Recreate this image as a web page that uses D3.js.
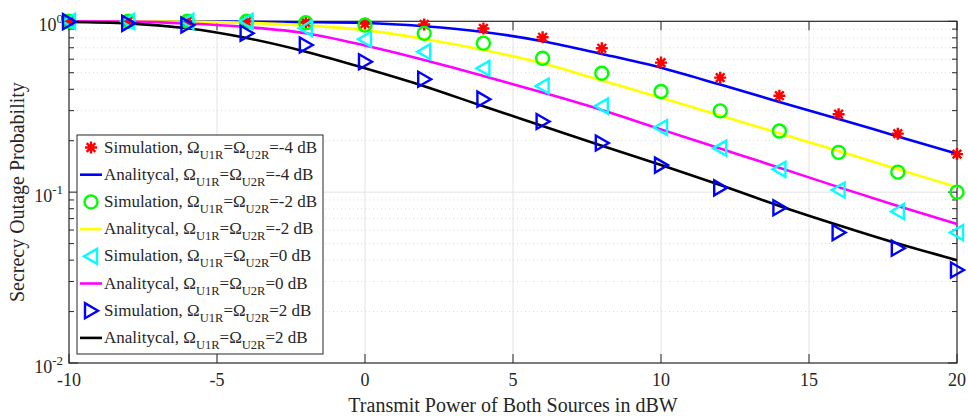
<!DOCTYPE html>
<html>
<head>
<meta charset="utf-8">
<script src="https://cdn.jsdelivr.net/npm/d3@7"></script>
<style>
  body { margin: 0; background: #fff; }
  svg text { font-family: "Liberation Serif", "Times New Roman", serif; fill: #262626; }
</style>
</head>
<body>
<div id="chart"></div>
<script>
// transmit power of both sources (dBW)
const powerDb = [-10, -8, -6, -4, -2, 0, 2, 4, 6, 8, 10, 12, 14, 16, 18, 20];

// secrecy outage probability
const simM4 = [1.0, 1.0, 1.0, 0.995, 0.984, 0.971, 0.958, 0.908, 0.806, 0.695, 0.573, 0.468, 0.367, 0.286, 0.220, 0.167];
const anaM4 = [1.0, 1.0, 0.998, 0.993, 0.988, 0.977, 0.935, 0.866, 0.765, 0.644, 0.535, 0.426, 0.337, 0.268, 0.212, 0.168];
const simM2 = [1.0, 1.0, 1.0, 1.0, 0.98, 0.95, 0.85, 0.745, 0.608, 0.497, 0.388, 0.299, 0.228, 0.171, 0.131, 0.10];
const anaM2 = [1.0, 0.999, 0.995, 0.979, 0.947, 0.888, 0.788, 0.68, 0.568, 0.45, 0.357, 0.281, 0.221, 0.174, 0.136, 0.107];
const sim0 = [1.0, 1.0, 1.0, 1.0, 0.91, 0.785, 0.664, 0.531, 0.418, 0.319, 0.239, 0.181, 0.136, 0.103, 0.077, 0.058];
const ana0 = [1.0, 0.995, 0.971, 0.926, 0.851, 0.722, 0.594, 0.479, 0.383, 0.303, 0.233, 0.180, 0.139, 0.107, 0.083, 0.065];
const sim2 = [0.995, 0.973, 0.951, 0.851, 0.727, 0.580, 0.458, 0.350, 0.259, 0.194, 0.144, 0.106, 0.081, 0.058, 0.047, 0.035];
const ana2 = [0.99, 0.973, 0.910, 0.798, 0.664, 0.531, 0.417, 0.318, 0.244, 0.187, 0.144, 0.110, 0.083, 0.064, 0.050, 0.040];

const xTicks = [-10, -5, 0, 5, 10, 15, 20];
const yTicks = [0.01, 0.1, 1];
const yTickExp = ["-2", "-1", "0"];
const omegaDb = ["-4", "-2", "0", "2"];

const series = [
    {kind: "sim", values: simM4, color: "#ff0000", marker: "star", db: omegaDb[0]},
    {kind: "ana", values: anaM4, color: "#0000ff", db: omegaDb[0]},
    {kind: "sim", values: simM2, color: "#00ff00", marker: "circle", db: omegaDb[1]},
    {kind: "ana", values: anaM2, color: "#ffff00", db: omegaDb[1]},
    {kind: "sim", values: sim0, color: "#00ffff", marker: "left", db: omegaDb[2]},
    {kind: "ana", values: ana0, color: "#ff00ff", db: omegaDb[2]},
    {kind: "sim", values: sim2, color: "#0000ff", marker: "right", db: omegaDb[3]},
    {kind: "ana", values: ana2, color: "#000000", db: omegaDb[3]}
];

const width = 968, height = 417;
const plot = {left: 69, right: 957, top: 21.3, bottom: 363};

const svg = d3.select("#chart").append("svg")
    .attr("width", width)
    .attr("height", height);

const x = d3.scaleLinear().domain([-10, 20]).range([plot.left, plot.right]);
const y = d3.scaleLog().domain([0.01, 1]).range([plot.bottom, plot.top]);

// minor values 2..9 per decade
const minorY = [];
[0.01, 0.1].forEach(function (d) {
    for (let k = 2; k <= 9; k++) minorY.push(d * k);
});

// grid
const grid = svg.append("g");
grid.selectAll(".vg").data(xTicks.slice(1, -1)).enter().append("line")
    .attr("x1", d => x(d)).attr("x2", d => x(d))
    .attr("y1", plot.top).attr("y2", plot.bottom)
    .attr("stroke", "#e3e3e3").attr("stroke-width", 1);
grid.selectAll(".hm").data(minorY).enter().append("line")
    .attr("x1", plot.left).attr("x2", plot.right)
    .attr("y1", d => y(d)).attr("y2", d => y(d))
    .attr("stroke", "#d0d0d0").attr("stroke-width", 0.8)
    .attr("stroke-dasharray", "1,3");
grid.append("line")
    .attr("x1", plot.left).attr("x2", plot.right)
    .attr("y1", y(0.1)).attr("y2", y(0.1))
    .attr("stroke", "#e3e3e3").attr("stroke-width", 1);

// axes box and inward ticks
const axisColor = "#262626";
const ticks = svg.append("g").attr("stroke", axisColor).attr("stroke-width", 1);
xTicks.forEach(function (d) {
    ticks.append("line").attr("x1", x(d)).attr("x2", x(d)).attr("y1", plot.bottom).attr("y2", plot.bottom - 9);
    ticks.append("line").attr("x1", x(d)).attr("x2", x(d)).attr("y1", plot.top).attr("y2", plot.top + 9);
});
yTicks.forEach(function (d) {
    ticks.append("line").attr("x1", plot.left).attr("x2", plot.left + 9).attr("y1", y(d)).attr("y2", y(d));
    ticks.append("line").attr("x1", plot.right).attr("x2", plot.right - 9).attr("y1", y(d)).attr("y2", y(d));
});
minorY.forEach(function (d) {
    ticks.append("line").attr("x1", plot.left).attr("x2", plot.left + 5).attr("y1", y(d)).attr("y2", y(d));
    ticks.append("line").attr("x1", plot.right).attr("x2", plot.right - 5).attr("y1", y(d)).attr("y2", y(d));
});
svg.append("rect")
    .attr("x", plot.left).attr("y", plot.top)
    .attr("width", plot.right - plot.left).attr("height", plot.bottom - plot.top)
    .attr("fill", "none").attr("stroke", axisColor).attr("stroke-width", 1.2);

// tick labels
svg.selectAll(".xl").data(xTicks).enter().append("text")
    .attr("x", d => x(d)).attr("y", plot.bottom + 23)
    .attr("text-anchor", "middle").attr("font-size", 18)
    .text(d => d);

yTicks.forEach(function (d, i) {
    const t = svg.append("text")
        .attr("x", plot.left - 6).attr("y", y(d) + 10)
        .attr("text-anchor", "end").attr("font-size", 18);
    t.append("tspan").text("10");
    t.append("tspan").attr("dy", -8).attr("font-size", 13).text(yTickExp[i]);
});

// axis titles
svg.append("text")
    .attr("x", (plot.left + plot.right) / 2).attr("y", 412)
    .attr("text-anchor", "middle").attr("font-size", 20)
    .text("Transmit Power of Both Sources in dBW");
svg.append("text")
    .attr("transform", `translate(24,${(plot.top + plot.bottom) / 2}) rotate(-90)`)
    .attr("text-anchor", "middle").attr("font-size", 20)
    .text("Secrecy Outage Probability");

// markers
function drawMarker(g, type, color, cx, cy) {
    if (type === "star") {
        const r = 6;
        const q = r * 0.72;
        g.append("path")
            .attr("d", `M${cx - r},${cy}L${cx + r},${cy}M${cx},${cy - r}L${cx},${cy + r}` +
                `M${cx - q},${cy - q}L${cx + q},${cy + q}M${cx - q},${cy + q}L${cx + q},${cy - q}`)
            .attr("stroke", color).attr("stroke-width", 2.4).attr("fill", "none");
    } else if (type === "circle") {
        g.append("circle").attr("cx", cx).attr("cy", cy).attr("r", 6.5)
            .attr("stroke", color).attr("stroke-width", 2.4).attr("fill", "none");
    } else if (type === "left") {
        g.append("path")
            .attr("d", `M${cx - 7},${cy}L${cx + 6},${cy - 7.5}L${cx + 6},${cy + 7.5}Z`)
            .attr("stroke", color).attr("stroke-width", 2.4).attr("fill", "none");
    } else {
        g.append("path")
            .attr("d", `M${cx + 7},${cy}L${cx - 6},${cy - 7.5}L${cx - 6},${cy + 7.5}Z`)
            .attr("stroke", color).attr("stroke-width", 2.4).attr("fill", "none");
    }
}

const line = d3.line()
    .curve(d3.curveMonotoneX)
    .x((d, i) => x(powerDb[i]))
    .y(d => y(d));

const marks = svg.append("g");
series.forEach(function (s) {
    if (s.kind === "ana") {
        marks.append("path")
            .datum(s.values)
            .attr("fill", "none")
            .attr("stroke", s.color)
            .attr("stroke-width", 2.6)
            .attr("d", line);
    }
});
series.forEach(function (s) {
    if (s.kind === "sim") {
        s.values.forEach(function (v, i) {
            drawMarker(marks, s.marker, s.color, x(powerDb[i]), y(v));
        });
    }
});

// legend
const legend = svg.append("g");
legend.append("rect")
    .attr("x", 77).attr("y", 135).attr("width", 246).attr("height", 219)
    .attr("fill", "#fff").attr("stroke", axisColor).attr("stroke-width", 1);

series.forEach(function (s, i) {
    const cy = 147.5 + i * 27.2;
    if (s.kind === "sim") {
        drawMarker(legend, s.marker, s.color, 91, cy);
    } else {
        legend.append("line").attr("x1", 80).attr("x2", 102).attr("y1", cy).attr("y2", cy)
            .attr("stroke", s.color).attr("stroke-width", 2.6);
    }
    const t = legend.append("text").attr("x", 104).attr("y", cy + 5).attr("font-size", 17);
    t.append("tspan").text((s.kind === "sim" ? "Simulation" : "Analitycal") + ", Ω");
    t.append("tspan").attr("dy", 6).attr("font-size", 12.5).text("U1R");
    t.append("tspan").attr("dy", -6).text("=Ω");
    t.append("tspan").attr("dy", 6).attr("font-size", 12.5).text("U2R");
    t.append("tspan").attr("dy", -6).text("=" + s.db + " dB");
});
</script>
</body>
</html>
